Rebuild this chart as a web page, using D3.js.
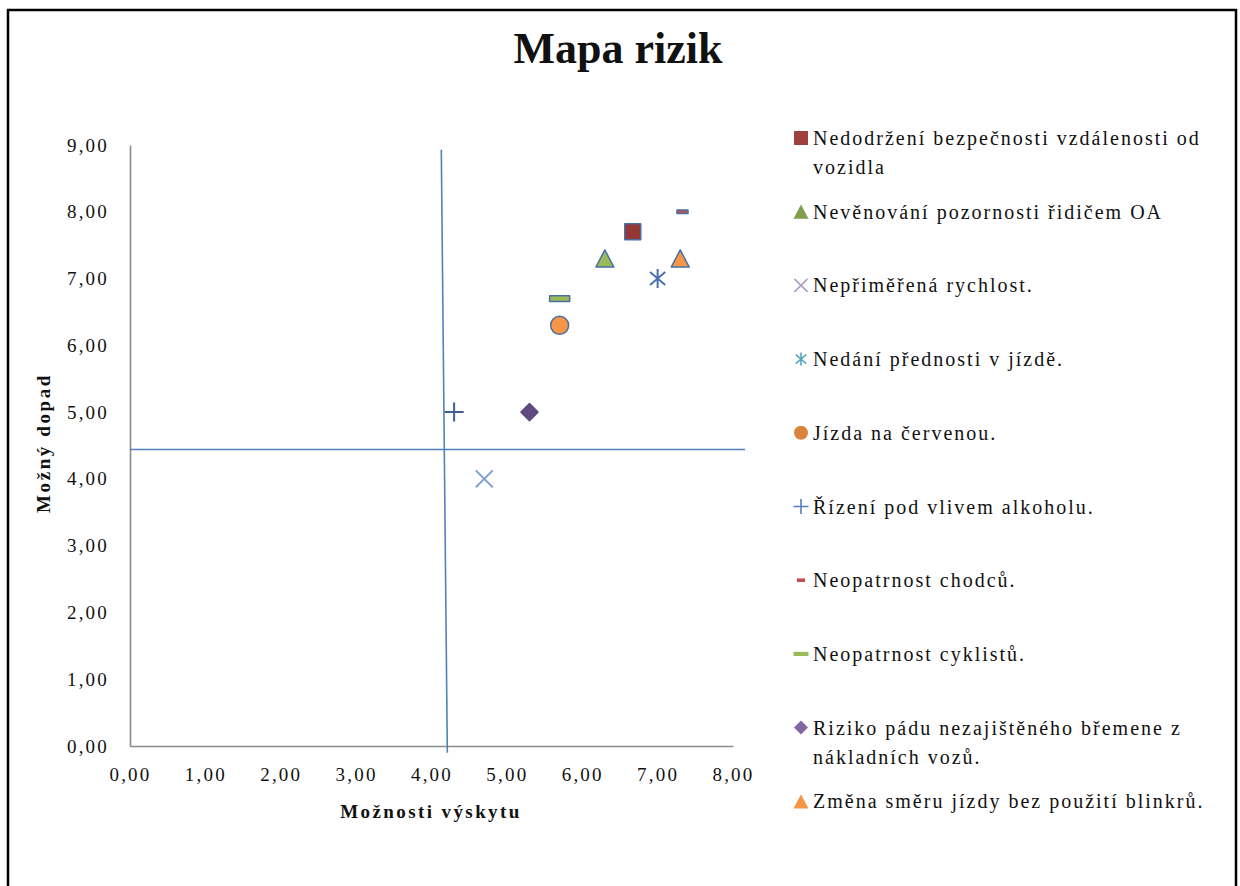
<!DOCTYPE html>
<html lang="cs">
<head>
<meta charset="utf-8">
<title>Mapa rizik</title>
<script src="https://cdn.jsdelivr.net/npm/d3@7"></script>
<style>
  html, body { margin: 0; padding: 0; background: #ffffff; }
  svg { display: block; }
  text { font-family: "Liberation Serif", "DejaVu Serif", serif; fill: #111; }
</style>
</head>
<body>
<svg id="chart" width="1240" height="886"></svg>
<script>
// Risk categories (legend order)
const riskNames = [
  "Nedodržení bezpečnosti vzdálenosti od\nvozidla",
  "Nevěnování pozornosti řidičem OA",
  "Nepřiměřená rychlost.",
  "Nedání přednosti v jízdě.",
  "Jízda na červenou.",
  "Řízení pod vlivem alkoholu.",
  "Neopatrnost chodců.",
  "Neopatrnost cyklistů.",
  "Riziko pádu nezajištěného břemene z\nnákladních vozů.",
  "Změna směru jízdy bez použití blinkrů."
];
// Likelihood of occurrence (x) and possible impact (y)
const likelihood = [6.67, 6.3, 4.7, 7.0, 5.7, 4.3, 7.33, 5.7, 5.3, 7.3];
const impact     = [7.7, 7.3, 4.0, 7.0, 6.3, 5.0, 8.0, 6.7, 5.0, 7.3];
const xTicks = [0, 1, 2, 3, 4, 5, 6, 7, 8];
const yTicks = [0, 1, 2, 3, 4, 5, 6, 7, 8, 9];
// Quadrant divider lines (data coordinates)
const dividerH = [[0, 4.44], [8.16, 4.44]];
const dividerV = [[4.13, 8.93], [4.21, -0.1]];

// Marker appearance for each series
const markerStyle = [
  { shape: "square",   fill: "#953735", stroke: "#4a6fa5", size: 16, lFill: "#a0403e", lSize: 14 },
  { shape: "triangle", fill: "#9bbb59", stroke: "#4a6fa5", size: 18, lFill: "#7f9f4d", lSize: 15 },
  { shape: "x",        fill: "none",    stroke: "#7e9fd0", size: 17, lStroke: "#a99fc8", lSize: 13 },
  { shape: "star",     fill: "none",    stroke: "#4a72b0", size: 19, lStroke: "#5aa5bd", lSize: 13 },
  { shape: "circle",   fill: "#f79646", stroke: "#4a6fa5", size: 18, lFill: "#d8843c", lSize: 14 },
  { shape: "plus",     fill: "none",    stroke: "#3f5f90", size: 19, lStroke: "#4f7fbf", lSize: 15 },
  { shape: "dash",     fill: "#c0504d", stroke: "#4a6fa5", size: 11, lFill: "#c0504d", lSize: 8 },
  { shape: "dash",     fill: "#9bbb59", stroke: "#4a6fa5", size: 20, lFill: "#9bbb59", lSize: 15 },
  { shape: "diamond",  fill: "#5f4a82", stroke: "#5f4a82", size: 17, lFill: "#8067a3", lSize: 14 },
  { shape: "triangle", fill: "#f79646", stroke: "#4a6fa5", size: 18, lFill: "#f79646", lSize: 15 }
];

// Custom symbol types; "size" is the marker span squared
const half = s => Math.sqrt(s) / 2;
const symbolTypes = {
  square: { draw(c, s) { const r = half(s); c.rect(-r, -r, 2 * r, 2 * r); } },
  triangle: { draw(c, s) { const r = half(s), h = r * 0.95;
    c.moveTo(0, -h); c.lineTo(r, h); c.lineTo(-r, h); c.closePath(); } },
  circle: { draw(c, s) { const r = half(s); c.moveTo(r, 0); c.arc(0, 0, r, 0, 2 * Math.PI); } },
  diamond: { draw(c, s) { const r = half(s);
    c.moveTo(0, -r); c.lineTo(r, 0); c.lineTo(0, r); c.lineTo(-r, 0); c.closePath(); } },
  x: { draw(c, s) { const r = half(s);
    c.moveTo(-r, -r); c.lineTo(r, r); c.moveTo(r, -r); c.lineTo(-r, r); } },
  plus: { draw(c, s) { const r = half(s);
    c.moveTo(-r, 0); c.lineTo(r, 0); c.moveTo(0, -r); c.lineTo(0, r); } },
  star: { draw(c, s) { const r = half(s), d = r * 0.8;
    c.moveTo(0, -r); c.lineTo(0, r); c.moveTo(-d, -d * 0.85); c.lineTo(d, d * 0.85);
    c.moveTo(d, -d * 0.85); c.lineTo(-d, d * 0.85); } },
  dash: { draw(c, s) { const r = half(s), h = Math.max(1.8, r * 0.28);
    c.rect(-r, -h, 2 * r, 2 * h); } }
};
const lineShapes = new Set(["x", "plus", "star"]);

const svg = d3.select("#chart");

// Outer frame (top, left, right edges)
svg.append("path")
  .attr("d", "M8,886V10H1236V886")
  .attr("fill", "none").attr("stroke", "#000").attr("stroke-width", 2.5);

// Title
svg.append("text")
  .attr("x", 618).attr("y", 63)
  .attr("text-anchor", "middle")
  .attr("font-size", 44).attr("font-weight", "bold")
  .text("Mapa rizik");

const x = d3.scaleLinear().domain([0, 8]).range([130, 733]);
const y = d3.scaleLinear().domain([0, 9]).range([746, 145]);

const csLocale = d3.formatLocale({ decimal: ",", thousands: " ", grouping: [3], currency: ["", " Kč"] });
const fmt = csLocale.format(".2f");

// Axes
const xAxis = svg.append("g")
  .attr("transform", `translate(0,${y(0)})`)
  .call(d3.axisBottom(x).tickValues(xTicks).tickFormat(fmt).tickSize(0).tickPadding(22));
const yAxis = svg.append("g")
  .attr("transform", `translate(${x(0)},0)`)
  .call(d3.axisLeft(y).tickValues(yTicks).tickFormat(fmt).tickSize(0).tickPadding(21));

[xAxis, yAxis].forEach(g => {
  g.select(".domain").attr("stroke", "#8a8a8a").attr("stroke-width", 1.6);
  g.selectAll("text")
    .attr("font-family", "Liberation Serif, serif")
    .attr("font-size", 19).attr("letter-spacing", "2.2px").attr("fill", "#222");
});

// Axis titles
svg.append("text")
  .attr("x", 431).attr("y", 818)
  .attr("text-anchor", "middle")
  .attr("font-size", 19).attr("font-weight", "bold").attr("letter-spacing", "2.4px")
  .text("Možnosti výskytu");
svg.append("text")
  .attr("transform", "translate(50,443) rotate(-90)")
  .attr("text-anchor", "middle")
  .attr("font-size", 19).attr("font-weight", "bold").attr("letter-spacing", "2.6px")
  .text("Možný dopad");

// Quadrant dividers
const line = d3.line().x(d => x(d[0])).y(d => y(d[1]));
[dividerH, dividerV].forEach(seg => {
  svg.append("path")
    .attr("d", line(seg))
    .attr("fill", "none").attr("stroke", "#4f81bd").attr("stroke-width", 1.6);
});

// Data points
const points = riskNames.map((name, i) => ({ name, x: likelihood[i], y: impact[i], st: markerStyle[i] }));

svg.append("g").selectAll("path")
  .data(points)
  .join("path")
  .attr("transform", d => `translate(${x(d.x)},${y(d.y)})`)
  .attr("d", d => d3.symbol().type(symbolTypes[d.st.shape]).size(d.st.size * d.st.size)())
  .attr("fill", d => lineShapes.has(d.st.shape) ? "none" : d.st.fill)
  .attr("stroke", d => d.st.stroke)
  .attr("stroke-width", d => lineShapes.has(d.st.shape) ? 2 : 1.5)
  .attr("stroke-linejoin", "round");

// Legend
const legendTop = 138, legendStep = 73.7, legendMarkerX = 801, legendTextX = 813;
const legend = svg.append("g").selectAll("g")
  .data(points)
  .join("g")
  .attr("transform", (d, i) => `translate(0,${legendTop + i * legendStep})`);

legend.append("path")
  .attr("transform", `translate(${legendMarkerX},0)`)
  .attr("d", d => d3.symbol().type(symbolTypes[d.st.shape]).size(d.st.lSize * d.st.lSize)())
  .attr("fill", d => lineShapes.has(d.st.shape) ? "none" : d.st.lFill)
  .attr("stroke", d => lineShapes.has(d.st.shape) ? d.st.lStroke : "none")
  .attr("stroke-width", 1.6);

legend.append("text")
  .attr("x", legendTextX).attr("y", 7)
  .attr("font-size", 20).attr("letter-spacing", "2px")
  .selectAll("tspan")
  .data(d => d.name.split("\n"))
  .join("tspan")
  .attr("x", legendTextX)
  .attr("dy", (d, i) => i === 0 ? 0 : 29)
  .text(d => d);
</script>
</body>
</html>
